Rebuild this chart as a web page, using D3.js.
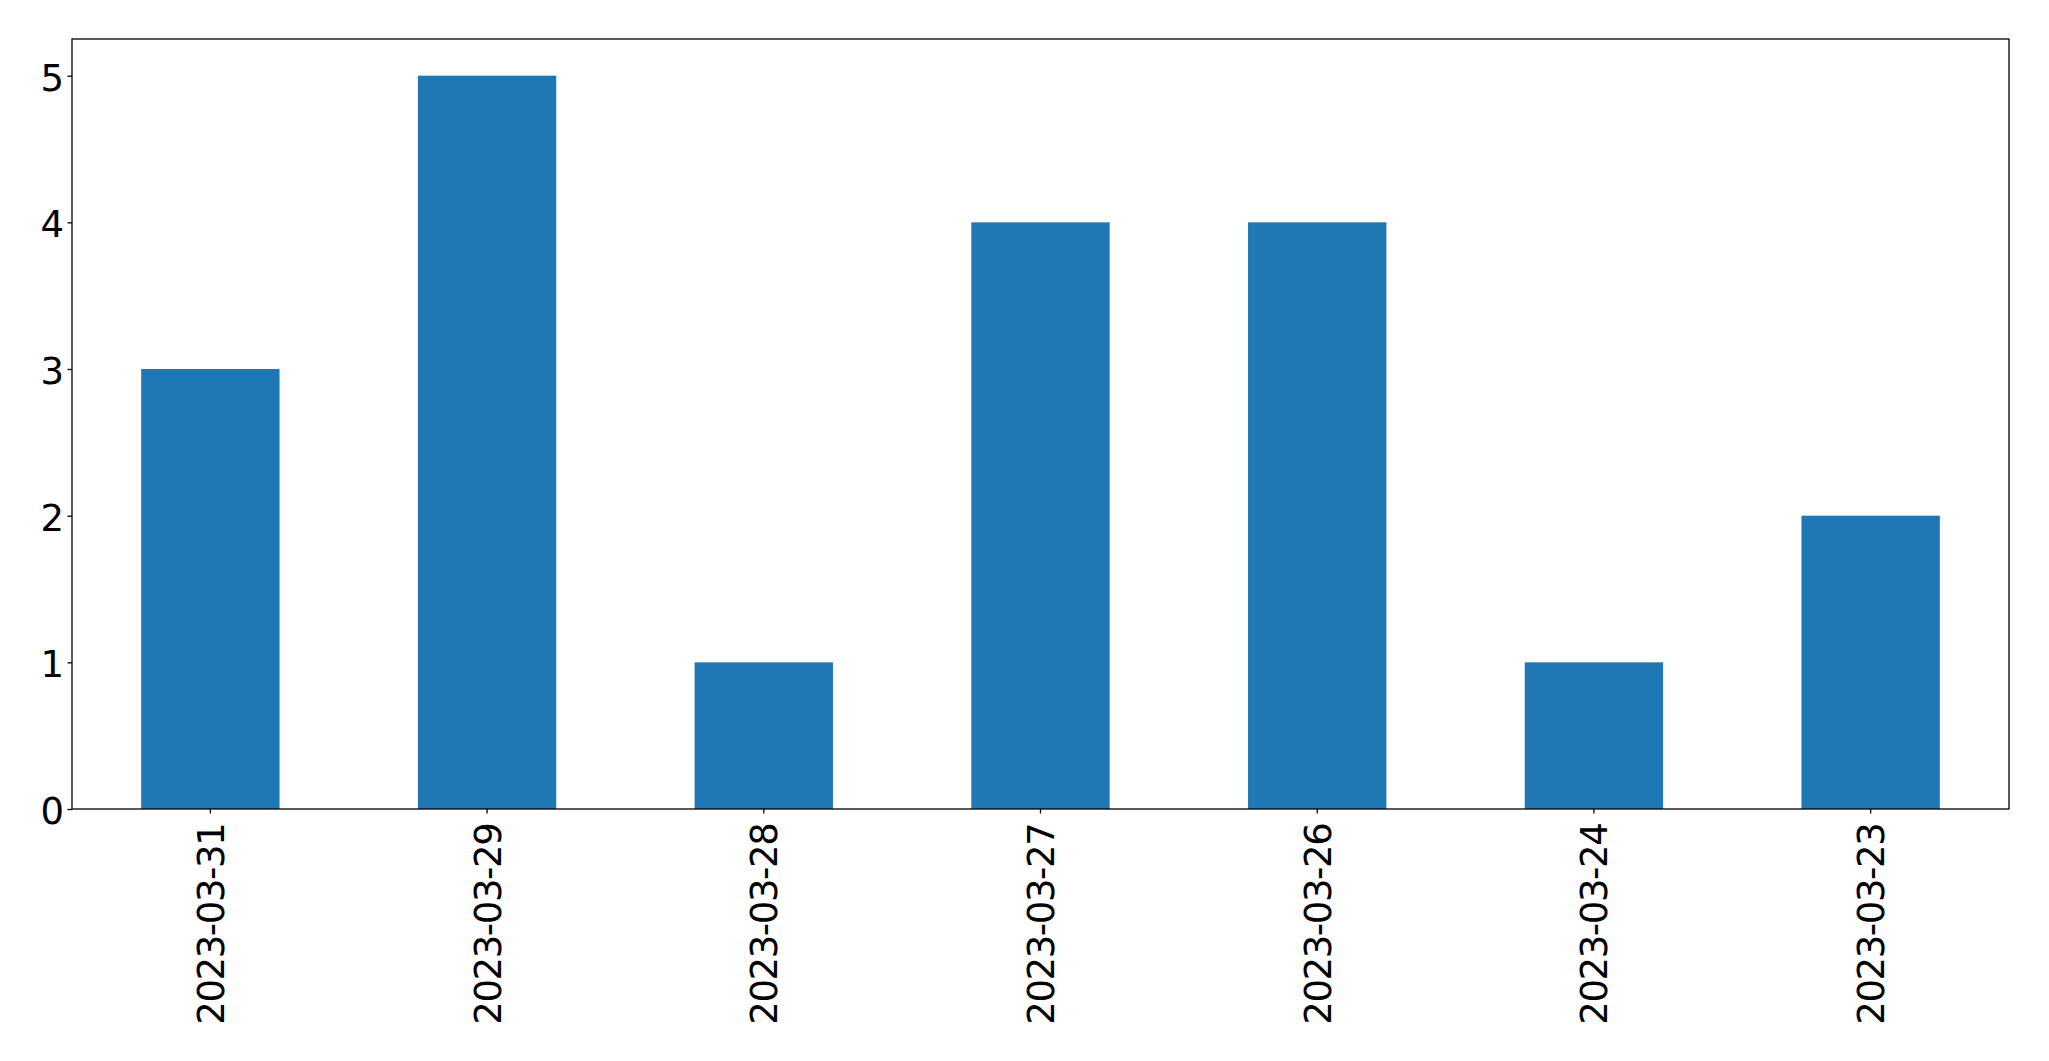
<!DOCTYPE html>
<html>
<head>
<meta charset="utf-8">
<script src="https://cdn.jsdelivr.net/npm/d3@7"></script>
<style>
  html, body { margin: 0; padding: 0; background: #fff; }
  svg { display: block; }
  text { font-family: "DejaVu Sans", sans-serif; }
</style>
</head>
<body>
<script>
const categories = ["2023-03-31", "2023-03-29", "2023-03-28", "2023-03-27", "2023-03-26", "2023-03-24", "2023-03-23"];
const values = [3, 5, 1, 4, 4, 1, 2];
const yTicks = [0, 1, 2, 3, 4, 5];

const W = 2049, H = 1061;
const margin = {left: 72, right: 2049 - 2009, top: 39, bottom: 1061 - 809};
const iw = W - margin.left - margin.right;
const ih = H - margin.top - margin.bottom;

const svg = d3.select("body").append("svg").attr("width", W).attr("height", H);
const g = svg.append("g").attr("transform", `translate(${margin.left},${margin.top})`);

const x = d3.scaleBand().domain(categories).range([0, iw]).paddingInner(0.5).paddingOuter(0.25);
const y = d3.scaleLinear().domain([0, 5.25]).range([ih, 0]);

g.selectAll("rect.bar").data(values).join("rect")
  .attr("class", "bar")
  .attr("x", (d, i) => x(categories[i]))
  .attr("width", x.bandwidth())
  .attr("y", d => y(d))
  .attr("height", d => ih - y(d))
  .attr("fill", "#1f77b4");

const fs = 37;
const tickLen = 4.5;

const yAxis = g.append("g").call(d3.axisLeft(y).tickValues(yTicks).tickFormat(d3.format("d")).tickSize(tickLen).tickPadding(3.5));
yAxis.select(".domain").remove();
yAxis.selectAll("line").attr("stroke", "#000").attr("stroke-width", 1.3);
yAxis.selectAll("text").attr("font-size", fs).attr("fill", "#000").attr("font-family", "DejaVu Sans")
  .attr("dy", "14.5px");

const xAxis = g.append("g").attr("transform", `translate(0,${ih})`)
  .call(d3.axisBottom(x).tickSize(tickLen));
xAxis.select(".domain").remove();
xAxis.selectAll("line").attr("stroke", "#000").attr("stroke-width", 1.3);
xAxis.selectAll("text")
  .attr("font-size", fs).attr("fill", "#000").attr("font-family", "DejaVu Sans")
  .attr("letter-spacing", "-1.4px")
  .attr("transform", "rotate(-90)")
  .attr("text-anchor", "end")
  .attr("dy", "13.5px")
  .attr("x", -14.7)
  .attr("y", 0);

g.append("rect").attr("x", 0).attr("y", 0).attr("width", iw).attr("height", ih)
  .attr("fill", "none").attr("stroke", "#000").attr("stroke-width", 1.3);
</script>
</body>
</html>
